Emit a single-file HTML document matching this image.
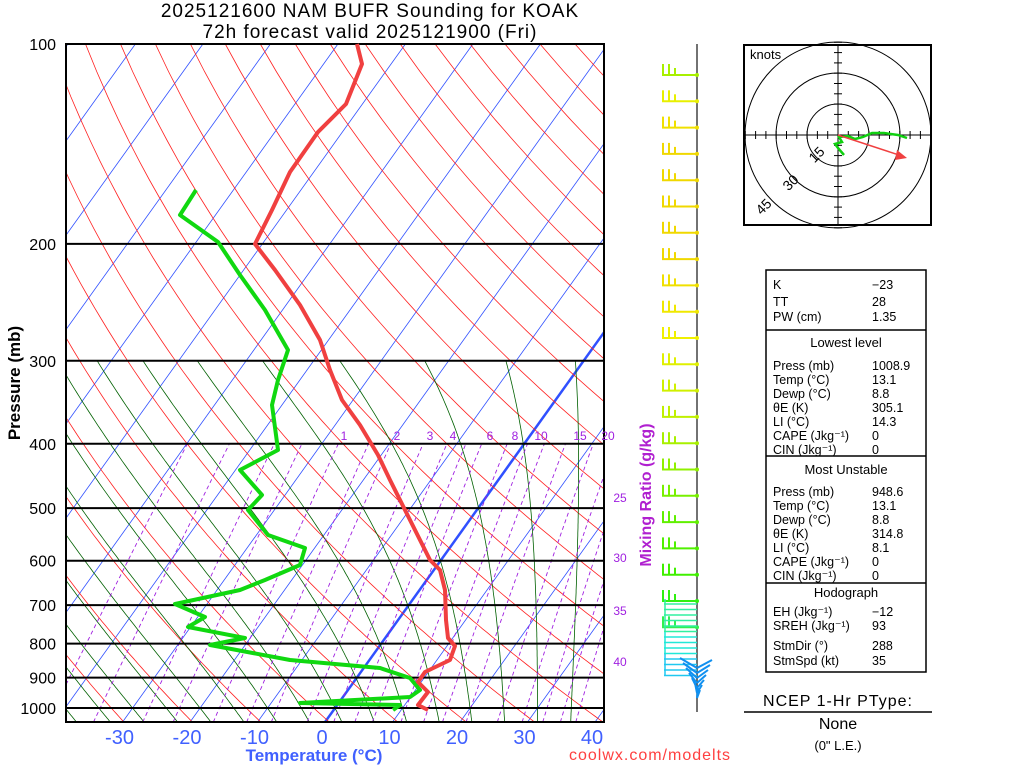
<!DOCTYPE html>
<html><head><style>
body{margin:0;background:#fff;width:1024px;height:768px;overflow:hidden}
svg text{font-family:"Liberation Sans",sans-serif}
</style></head><body>
<svg id="s" width="1024" height="768" xmlns="http://www.w3.org/2000/svg">
<defs><clipPath id="c"><rect x="66" y="44" width="538" height="678"/></clipPath></defs>
<g id="bg" clip-path="url(#c)"></g>
<g id="fg"></g>
</svg>
<script>
const NS="http://www.w3.org/2000/svg";
const bg=document.getElementById('bg'),fg=document.getElementById('fg');
function el(par,tag,a,txt){const e=document.createElementNS(NS,tag);for(const k in a)e.setAttribute(k,a[k]);if(txt!==undefined)e.textContent=txt;par.appendChild(e);return e;}
const yP=p=>708-664*Math.log10(1000/p);
const xT=(T,p)=>325+6.75*T+0.716*(722-yP(p));
function poly(par,pts,st){el(par,'polyline',Object.assign({points:pts.map(q=>q[0].toFixed(1)+','+q[1].toFixed(1)).join(' '),fill:'none'},st));}
for(let T=-150;T<=50;T+=10){poly(bg,[[xT(T,1050),yP(1050)],[xT(T,100),yP(100)]],{stroke:'#3050ff','stroke-width':T==0?2.5:0.8});}
for(let th=200;th<=500;th+=10){const pts=[];for(let p=1050;p>=100;p-=10){pts.push([xT(th*Math.pow(p/1000,0.2857)-273.15,p),yP(p)]);}poly(bg,pts,{stroke:'#ff2020','stroke-width':0.8});}
const es=Tc=>6.112*Math.exp(17.67*Tc/(Tc+243.5));
function dTdp(T,p){const Tc=T-273.15,e=es(Tc),rs=0.622*e/(p-e),L=2.5e6;return (287*T+L*rs)/(p*(1004+L*L*rs*0.622/(287*T*T)));}
for(let t0=-40;t0<=45;t0+=5){
 let T=t0+273.15,p=1000;const up=[];
 for(p=1000;p>=300;p-=5){up.push([xT(T-273.15,p),yP(p)]);T-=dTdp(T,p)*5;}
 T=t0+273.15;const dn=[];for(p=1000;p<=1050;p+=5){dn.unshift([xT(T-273.15,p),yP(p)]);T+=dTdp(T,p)*5;}
 poly(bg,dn.concat(up),{stroke:'#006000','stroke-width':0.8});}
const ws=[0.1,0.2,0.4,0.6,1,1.5,2,3,4,5,6,8,10,12,15,20,25,30,35,40];
for(const w of ws){const pts=[];for(let p=1050;p>=400;p-=10){const e=w*p/(622+w);const l=Math.log(e/6.112);const Td=243.5*l/(17.67-l);pts.push([xT(Td,p),yP(p)]);}poly(bg,pts,{stroke:'#a020e0','stroke-width':0.9,'stroke-dasharray':'4,3'});}
for(const p of [100,200,300,400,500,600,700,800,900,1000]){el(fg,'line',{x1:66,x2:604,y1:yP(p),y2:yP(p),stroke:'#000','stroke-width':p==100?1:2});
 el(fg,'text',{x:56,y:yP(p)+6,'text-anchor':'end','font-size':16},p);}
el(fg,'rect',{x:66,y:44,width:538,height:678,fill:'none',stroke:'#000','stroke-width':2});
for(let T=-30;T<=40;T+=10){el(fg,'text',{x:325+6.75*T-3,y:744,'text-anchor':'middle','font-size':20,fill:'#4060ff'},T==0?'0':T);}
el(fg,'text',{x:314,y:761,'text-anchor':'middle','font-size':17,fill:'#4060ff','font-weight':'bold'},'Temperature (°C)');
el(fg,'text',{x:650,y:760,'text-anchor':'middle','font-size':16,fill:'#ff4040','letter-spacing':'1'},'coolwx.com/modelts');
el(fg,'text',{x:20,y:383,'text-anchor':'middle','font-size':17,'font-weight':'bold',transform:'rotate(-90 20 383)'},'Pressure (mb)');
el(fg,'text',{x:370,y:17,'text-anchor':'middle','font-size':19,'letter-spacing':'1'},'2025121600 NAM BUFR Sounding for KOAK');
el(fg,'text',{x:370,y:38,'text-anchor':'middle','font-size':19,'letter-spacing':'1'},'72h forecast valid 2025121900 (Fri)');
el(fg,'text',{x:651,y:495,'text-anchor':'middle','font-size':16,fill:'#b020d0','font-weight':'bold',transform:'rotate(-90 651 495)'},'Mixing Ratio (g/kg)');
[[344,'1'],[397,'2'],[430,'3'],[453,'4'],[490,'6'],[515,'8'],[541,'10'],[580,'15'],[608,'20']].forEach(a=>el(fg,'text',{x:a[0],y:440,'text-anchor':'middle','font-size':12,fill:'#a020e0'},a[1]));
[[502,'25'],[562,'30'],[615,'35'],[666,'40']].forEach(a=>el(fg,'text',{x:620,y:a[0],'text-anchor':'middle','font-size':12,fill:'#a020e0'},a[1]));
const tp=[[357,44],[362,64],[346,104],[318,132],[290,172],[272,210],[255,244],[275,270],[300,305],[320,340],[330,370],[342,400],[360,425],[378,455],[390,480],[405,510],[420,540],[430,560],[440,570],[445,590],[446,620],[448,638],[455,646],[450,660],[425,672],[418,682],[428,692],[418,705],[428,710]];
const dp=[[196,190],[180,215],[218,242],[240,275],[265,310],[288,350],[278,380],[272,405],[278,450],[240,470],[262,495],[248,510],[268,535],[305,548],[300,565],[265,580],[240,590],[175,604],[205,617],[188,627],[245,638],[210,645],[290,660],[380,668],[410,678],[420,690],[410,697],[300,703],[400,705],[393,710]];
poly(fg,dp,{stroke:'#10d810','stroke-width':4,'stroke-linejoin':'round'});
poly(fg,tp,{stroke:'#f04040','stroke-width':4,'stroke-linejoin':'round'});
el(fg,'line',{x1:697,x2:697,y1:44,y2:712,stroke:'#444','stroke-width':1.5});
const cols=['#a8f000','#e8f000','#f0e000','#f0d800','#f0d800','#f0d800','#f0d800','#f0d800','#f0e000','#f0e800','#f0f000','#e0f000','#d0f000','#c0f000','#a8f000','#90f000','#78f000','#60f000','#50f000','#40f000','#30f010','#30f050'];
for(let i=0;i<22;i++){const y=75+i*26.3;const c=cols[i];
 el(fg,'line',{x1:662,x2:697,y1:y,y2:y,stroke:c,'stroke-width':2});
 for(const dx of [0,6,12]){el(fg,'line',{x1:663+dx,x2:663+dx,y1:y,y2:y-(dx==12?7:11),stroke:c,'stroke-width':2});}
 el(fg,'circle',{cx:697,cy:y,r:2,fill:c});}
for(let i=0;i<14;i++){const y=604+i*5.5;const c=i<6?'#30f0a0':(i<10?'#20e8d8':'#20c8f0');
 el(fg,'line',{x1:664,x2:697,y1:y,y2:y,stroke:c,'stroke-width':1.5});
 el(fg,'line',{x1:665,x2:665,y1:y,y2:y-5,stroke:c,'stroke-width':1.5});}
for(let i=0;i<7;i++){const y=668+i*5;el(fg,'line',{x1:697,x2:680+i*3,y1:y,y2:y-10,stroke:'#1090f0','stroke-width':2});el(fg,'line',{x1:697,x2:712-i*2,y1:y,y2:y-8,stroke:'#1090f0','stroke-width':2});}
const hg=el(fg,'g',{});
el(hg,'rect',{x:744,y:45,width:187,height:180,fill:'none',stroke:'#000','stroke-width':2});
for(const r of [31,62,93])el(hg,'circle',{cx:838,cy:135,r:r,fill:'none',stroke:'#000','stroke-width':1});
el(hg,'line',{x1:744,x2:931,y1:135,y2:135,stroke:'#000'});el(hg,'line',{x1:838,x2:838,y1:45,y2:225,stroke:'#000'});
for(let k=-9;k<=9;k++){if(!k)continue;const d=k*10.3;el(hg,'line',{x1:838+d,x2:838+d,y1:131,y2:139,stroke:'#000'});el(hg,'line',{x1:834,x2:842,y1:135+d,y2:135+d,stroke:'#000'});}
el(hg,'text',{x:750,y:59,'font-size':13},'knots');
[[820,158,'15'],[794,186,'30'],[767,210,'45']].forEach(a=>el(hg,'text',{x:a[0],y:a[1],'font-size':14,'text-anchor':'middle',transform:'rotate(-45 '+a[0]+' '+a[1]+')'},a[2]));
poly(hg,[[844,155],[838,148],[835,144],[842,142],[839,137],[848,136],[855,139],[863,137],[872,133],[884,133],[898,135],[907,138]],{stroke:'#10d010','stroke-width':2.5});
el(hg,'line',{x1:838,x2:902,y1:135,y2:156,stroke:'#f04040','stroke-width':1.5});
el(hg,'polygon',{points:'907,158 897,150 895,160',fill:'#f04040'});
const tg=el(fg,'g',{});
el(tg,'rect',{x:766,y:270,width:160,height:402,fill:'none',stroke:'#000','stroke-width':1.5});
for(const y of [330,456,583])el(tg,'line',{x1:766,x2:926,y1:y,y2:y,stroke:'#000','stroke-width':1.5});
const rows=[[289,'K','−23'],[306,'TT','28'],[321,'PW (cm)','1.35'],[370,'Press (mb)','1008.9'],[384,'Temp (°C)','13.1'],[398,'Dewp (°C)','8.8'],[412,'θE (K)','305.1'],[426,'LI (°C)','14.3'],[440,'CAPE (Jkg⁻¹)','0'],[454,'CIN (Jkg⁻¹)','0'],[496,'Press (mb)','948.6'],[510,'Temp (°C)','13.1'],[524,'Dewp (°C)','8.8'],[538,'θE (K)','314.8'],[552,'LI (°C)','8.1'],[566,'CAPE (Jkg⁻¹)','0'],[580,'CIN (Jkg⁻¹)','0'],[616,'EH (Jkg⁻¹)','−12'],[630,'SREH (Jkg⁻¹)','93'],[650,'StmDir (°)','288'],[665,'StmSpd (kt)','35']];
rows.forEach(r=>{el(tg,'text',{x:773,y:r[0],'font-size':12.5},r[1]);el(tg,'text',{x:872,y:r[0],'font-size':12.5},r[2]);});
[[347,'Lowest level'],[474,'Most Unstable'],[597,'Hodograph']].forEach(a=>el(tg,'text',{x:846,y:a[0],'font-size':13,'text-anchor':'middle'},a[1]));
el(fg,'text',{x:838,y:706,'font-size':16,'text-anchor':'middle','letter-spacing':'1'},'NCEP 1-Hr PType:');
el(fg,'line',{x1:744,x2:932,y1:712,y2:712,stroke:'#000','stroke-width':1.5});
el(fg,'text',{x:838,y:729,'font-size':16,'text-anchor':'middle'},'None');
el(fg,'text',{x:838,y:750,'font-size':13,'text-anchor':'middle'},'(0" L.E.)');
</script>
</body></html>
